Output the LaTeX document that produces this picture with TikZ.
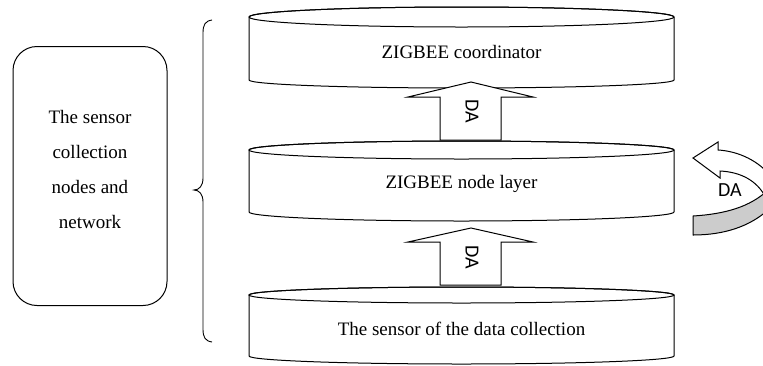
\documentclass[tikz,border=0pt]{standalone}
\usepackage{fontspec}
\setmainfont{Liberation Serif}
\newfontfamily\dafont{Carlito}
\begin{document}
\begin{tikzpicture}[x=1pt,y=-1pt,line width=1pt,
  lbl/.style={font=\fontsize{19}{22}\selectfont,inner sep=0pt},
  dalbl/.style={font=\dafont\fontsize{20}{22}\selectfont,inner sep=0pt},
  cyl/.style={draw,fill=white},
  blockarrow/.style={draw,fill=white,line join=miter}]
\useasboundingbox (0,0) rectangle (763,365);
% left box
\node[draw,rounded corners=24pt,minimum width=154pt,minimum height=259pt] (side) at (90,176) {};
\node[align=center,font=\fontsize{19}{35}\selectfont,inner sep=0pt] (sidetext) at (90,169)
      {The sensor\\collection\\nodes and\\network};
% brace
\draw[line width=0.9pt] (212,20) .. controls (205,21) and (203,25) .. (203,33)
   -- (203,178) .. controls (203,186) and (199,190) .. (194,190)
   .. controls (199,190) and (203,194) .. (203,202)
   -- (203,329) .. controls (203,337) and (205,341) .. (212,342);
% top cylinder
\draw[cyl] (249,17) -- (249,80) arc[start angle=180,end angle=0,x radius=212.5,y radius=8]
   -- (674,17) arc[start angle=0,end angle=-180,x radius=212.5,y radius=10] -- cycle;
\draw (461.5,17) ellipse[x radius=212.5,y radius=10];
\node[lbl] (top) at (461.5,52) {ZIGBEE coordinator};
% middle cylinder
\draw[cyl] (249,150) -- (249,212) arc[start angle=180,end angle=0,x radius=212.5,y radius=9]
   -- (674,150) arc[start angle=0,end angle=-180,x radius=212.5,y radius=9] -- cycle;
\draw (461.5,150) ellipse[x radius=212.5,y radius=9];
\node[lbl] (mid) at (461.5,184) {ZIGBEE node layer};
% bottom cylinder
\draw[cyl] (249,295) -- (249,356) arc[start angle=180,end angle=0,x radius=212.5,y radius=8]
   -- (674,295) arc[start angle=0,end angle=-180,x radius=212.5,y radius=8] -- cycle;
\draw (461.5,295) ellipse[x radius=212.5,y radius=8];
\node[lbl] (bot) at (461.5,329) {The sensor of the data collection};
% block arrows
\draw[blockarrow] (440,140) -- (440,97) -- (408,97) -- (471,82) -- (533,97) -- (501,97) -- (501,140) -- cycle;
\node[dalbl,rotate=-90] (da1) at (472,111) {DA};
\draw[blockarrow] (440,285) -- (440,242) -- (408,242) -- (471,228) -- (533,242) -- (501,242) -- (501,285) -- cycle;
\node[dalbl,rotate=-90] (da2) at (472,257) {DA};
% curved arrow
\begin{scope}
\clip (0,0) rectangle (763,365);
\draw[fill=black!20,line join=round] (693,216) .. controls (725,214) and (750,207) .. (768,190)
   -- (768,210) .. controls (750,226) and (725,235) .. (693,235) -- cycle;
\draw[fill=white,line join=miter] (718,150) -- (718,142) -- (693,158) -- (720,178) -- (720,171)
   .. controls (740,172) and (757,180) .. (766,198)
   -- (770,175) .. controls (755,158) and (735,151) .. (718,150) -- cycle;
\end{scope}
\node[dalbl] (da3) at (730,190) {DA};
\end{tikzpicture}
\end{document}
